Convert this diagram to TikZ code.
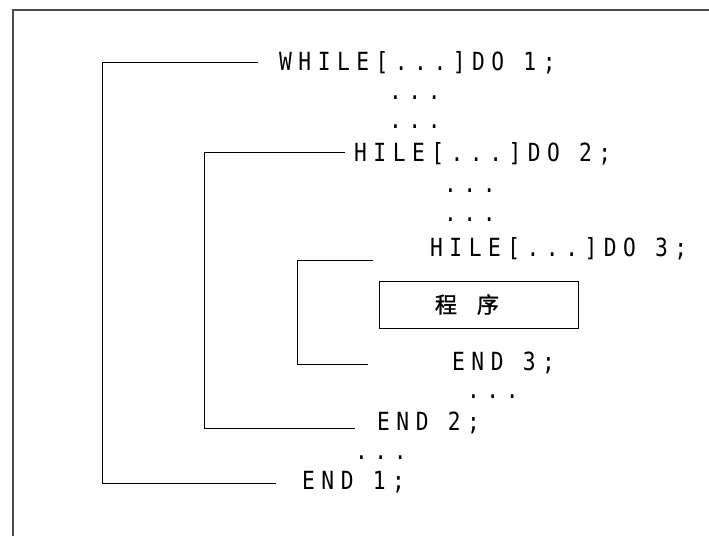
\documentclass[tikz,border=0pt]{standalone}
\usepackage{fontspec}
\newfontfamily\codefont[FakeStretch=0.85,LetterSpace=26]{DejaVu Sans Mono}
\newfontfamily\cjkfont[FakeBold=1.2]{Noto Sans CJK SC}

\tikzset{
  code/.style={font=\codefont\fontsize{25}{25}\selectfont, anchor=base west, inner sep=0pt},
  bracket/.style={draw=black, line width=0.9pt},
  progbox/.style={draw=black, line width=0.9pt, anchor=west, inner xsep=0pt,
    text width=199pt, align=left, minimum height=47pt,
    font=\cjkfont\fontsize{22}{22}\selectfont},
}

\begin{document}
\begin{tikzpicture}[x=1pt,y=-1pt]
    \useasboundingbox (0,0) rectangle (709,536);
    % frame
    \draw[black!70, line width=1.5pt] (13,536) -- (13,10) -- (709,10);

    % loop heads and ends
    \node[code] (w1) at (279,70) {WHILE[...]DO 1;};
    \node[code] (d1) at (389,99) {...};
    \node[code] (d2) at (389,128) {...};
    \node[code] (w2) at (354,161) {HILE[...]DO 2;};
    \node[code] (d3) at (444,192) {...};
    \node[code] (d4) at (444,221.5) {...};
    \node[code] (w3) at (430,256) {HILE[...]DO 3;};
    \node[progbox] (prog) at (378.5,304.5) {\hspace*{56pt}程\hspace{20pt}序};
    \node[code] (e3) at (452,370) {END 3;};
    \node[code] (d5) at (467,398) {...};
    \node[code] (e2) at (377,430) {END 2;};
    \node[code] (d6) at (355,459) {...};
    \node[code] (e1) at (302,489) {END 1;};

    % brackets
    \coordinate (t1) at (258,62.7);
    \coordinate (k1) at (102.5,270);
    \coordinate (b1) at (276,483.3);
    \coordinate (t2) at (345,152.7);
    \coordinate (k2) at (204.5,290);
    \coordinate (b2) at (355,428.3);
    \coordinate (t3) at (372.7,260);
    \coordinate (k3) at (297.5,310);
    \coordinate (b3) at (367.5,364);

    \draw[bracket] (t1) -| (k1) |- (b1);
    \draw[bracket] (t2) -| (k2) |- (b2);
    \draw[bracket] (t3) -| (k3) |- (b3);
\end{tikzpicture}
\end{document}
